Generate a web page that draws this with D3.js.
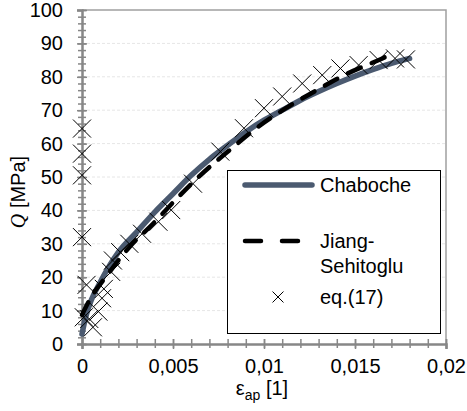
<!DOCTYPE html>
<html>
<head>
<meta charset="utf-8">
<script src="https://cdn.jsdelivr.net/npm/d3@7"></script>
<style>
  body { margin: 0; background: #fff; }
  text { font-family: "Liberation Sans", Arial, sans-serif; fill: #000; }
</style>
</head>
<body>
<div id="canvas"></div>
<script>
// values
const chabocheX = [0, 0.0002, 0.0005, 0.001, 0.002, 0.003, 0.004, 0.005, 0.006, 0.007, 0.008, 0.009, 0.01, 0.011, 0.012, 0.013, 0.014, 0.015, 0.016, 0.017, 0.018];
const chabocheQ = [3, 8, 13, 18.5, 27.5, 33.5, 39.5, 45, 50.5, 55.3, 59.5, 63.5, 67, 70, 73, 75.6, 78, 80.2, 82.2, 84, 85.5];

const jiangX = [0, 0.0005, 0.0013, 0.0026, 0.0039, 0.0052, 0.0065, 0.0081, 0.0098, 0.0112, 0.0129, 0.0146, 0.0165, 0.0169];
const jiangQ = [8.7, 14, 20, 29, 36, 43.5, 50.5, 58, 65.5, 70.6, 76, 81, 85.5, 86.5];

const eqX = [0, 0, 0, 0, 0.00025, 0.0001, 0.0004, 0.0006, 0.0009, 0.0011, 0.0012, 0.0016, 0.0017, 0.0021, 0.0026, 0.0033, 0.0042, 0.0049, 0.0061, 0.0076, 0.0089, 0.01, 0.011, 0.0121, 0.0132, 0.0142, 0.0152, 0.0163, 0.0172, 0.0178];
const eqQ = [64.5, 57, 50.5, 32, 17.7, 8, 7.5, 5, 9.7, 13.7, 16.5, 21.6, 25, 27.5, 30, 33, 36.6, 40.1, 48, 57.6, 64.6, 70.6, 74.1, 78, 80.5, 82.5, 83.5, 85, 85.5, 85.2];

const xTicks = [0, 0.005, 0.01, 0.015, 0.02];
const xTickLabels = ["0", "0,005", "0,01", "0,015", "0,02"];
const yTicks = [0, 10, 20, 30, 40, 50, 60, 70, 80, 90, 100];
const legendNames = ["Chaboche", "Jiang-", "Sehitoglu", "eq.(17)"];

const width = 467, height = 411;
const margin = {left: 82, top: 10, right: 21, bottom: 67};
const axisColor = "#878787";
const chabocheColor = "#4b5a70";

let svg = d3.select("#canvas").append("svg").attr("width", width).attr("height", height);
svg.append("rect").attr("width", width).attr("height", height).attr("fill", "#ffffff");

var x = d3.scaleLinear().domain([0, 0.02]).range([margin.left, width - margin.right]);
var y = d3.scaleLinear().domain([0, 100]).range([height - margin.bottom, margin.top]);

// gridlines
svg.append("g").selectAll("line")
    .data(yTicks.filter(t => t > 0 && t < 100))
    .enter().append("line")
    .attr("x1", x(0)).attr("x2", x(0.02))
    .attr("y1", d => y(d)).attr("y2", d => y(d))
    .attr("stroke", "#e6e6e6").attr("stroke-width", 1).attr("stroke-dasharray", "3,2");

// plot border (top, right)
svg.append("path")
    .attr("d", "M" + x(0) + "," + y(100) + "H" + x(0.02) + "V" + y(0))
    .attr("fill", "none").attr("stroke", "#a0a0a0").attr("stroke-width", 1.5);

// minor ticks
let yMinor = svg.append("g").attr("transform", "translate(" + x(0) + ",0)")
    .call(d3.axisLeft(y).tickValues(d3.range(0, 101, 2)).tickFormat("").tickSize(5));
yMinor.selectAll(".tick line").attr("x1", 4).attr("x2", -4);
let xMinor = svg.append("g").attr("transform", "translate(0," + y(0) + ")")
    .call(d3.axisBottom(x).tickValues(d3.range(0, 21).map(i => i / 1000)).tickFormat("").tickSize(5));
xMinor.selectAll(".tick line").attr("y1", -5).attr("y2", 4);
[yMinor, xMinor].forEach(g => {
    g.select(".domain").remove();
    g.selectAll(".tick line").attr("stroke", axisColor).attr("stroke-width", 1.5);
});

// main axes
let yAxis = svg.append("g").attr("transform", "translate(" + x(0) + ",0)")
    .call(d3.axisLeft(y).tickValues(yTicks).tickSize(5));
yAxis.selectAll(".tick line").attr("x1", 5).attr("x2", -5);
yAxis.selectAll(".tick text").attr("x", -19).style("font-size", "20px").style("font-family", "Liberation Sans, Arial, sans-serif");

let xAxis = svg.append("g").attr("transform", "translate(0," + y(0) + ")")
    .call(d3.axisBottom(x).tickValues(xTicks).tickFormat((d, i) => xTickLabels[i]).tickSize(5));
xAxis.selectAll(".tick line").attr("y1", -5).attr("y2", 5);
xAxis.selectAll(".tick text").attr("y", 15).style("font-size", "20px").style("font-family", "Liberation Sans, Arial, sans-serif");

[yAxis, xAxis].forEach(g => {
    g.select(".domain").attr("stroke", axisColor).attr("stroke-width", 2.5);
    g.selectAll(".tick line").attr("stroke", axisColor).attr("stroke-width", 1.5);
});

// axis titles
svg.append("text")
    .attr("transform", "translate(25," + 192 + ") rotate(-90)")
    .attr("text-anchor", "middle")
    .style("font-size", "20px")
    .html('<tspan font-style="italic" font-family="Liberation Serif, serif">Q</tspan> [MPa]');

svg.append("text")
    .attr("x", 262).attr("y", 395)
    .attr("text-anchor", "middle")
    .style("font-size", "20px")
    .html('ε<tspan dy="5" font-size="14px">ap</tspan><tspan dy="-5"> [1]</tspan>');

// series
let line = d3.line().x(d => x(d[0])).y(d => y(d[1])).curve(d3.curveMonotoneX);

svg.append("path")
    .datum(chabocheX.map((v, i) => [v, chabocheQ[i]]))
    .attr("d", line)
    .attr("fill", "none").attr("stroke", chabocheColor).attr("stroke-width", 5.5)
    .attr("stroke-linecap", "round");

svg.append("path")
    .datum(jiangX.map((v, i) => [v, jiangQ[i]]))
    .attr("d", line)
    .attr("fill", "none").attr("stroke", "#000").attr("stroke-width", 4.5)
    .attr("stroke-dasharray", "14,12").attr("stroke-linecap", "round");

let bigX = d3.symbol().type(d3.symbolX).size(215);
svg.append("g").selectAll("path")
    .data(eqX.map((v, i) => [v, eqQ[i]]))
    .enter().append("path")
    .attr("transform", d => "translate(" + x(d[0]) + "," + y(d[1]) + ")")
    .attr("d", bigX)
    .attr("fill", "none").attr("stroke", "#000").attr("stroke-width", 1);

// legend
let legend = svg.append("g");
legend.append("rect")
    .attr("x", 227.5).attr("y", 170.5).attr("width", 213).attr("height", 163)
    .attr("fill", "#fff").attr("stroke", "#000").attr("stroke-width", 1);
legend.append("line")
    .attr("x1", 245).attr("x2", 312).attr("y1", 185).attr("y2", 185)
    .attr("stroke", chabocheColor).attr("stroke-width", 5.5).attr("stroke-linecap", "round");
legend.append("line")
    .attr("x1", 245).attr("x2", 299).attr("y1", 241).attr("y2", 241)
    .attr("stroke", "#000").attr("stroke-width", 4.5)
    .attr("stroke-dasharray", "16,21").attr("stroke-linecap", "round");
legend.append("path")
    .attr("transform", "translate(278,297)")
    .attr("d", d3.symbol().type(d3.symbolX).size(80))
    .attr("fill", "none").attr("stroke", "#000").attr("stroke-width", 1);
legend.selectAll("text.lg")
    .data(legendNames)
    .enter().append("text")
    .attr("class", "lg")
    .attr("x", 320)
    .attr("y", (d, i) => [192, 248, 273, 304][i])
    .style("font-size", "20px")
    .text(d => d);
</script>
</body>
</html>
